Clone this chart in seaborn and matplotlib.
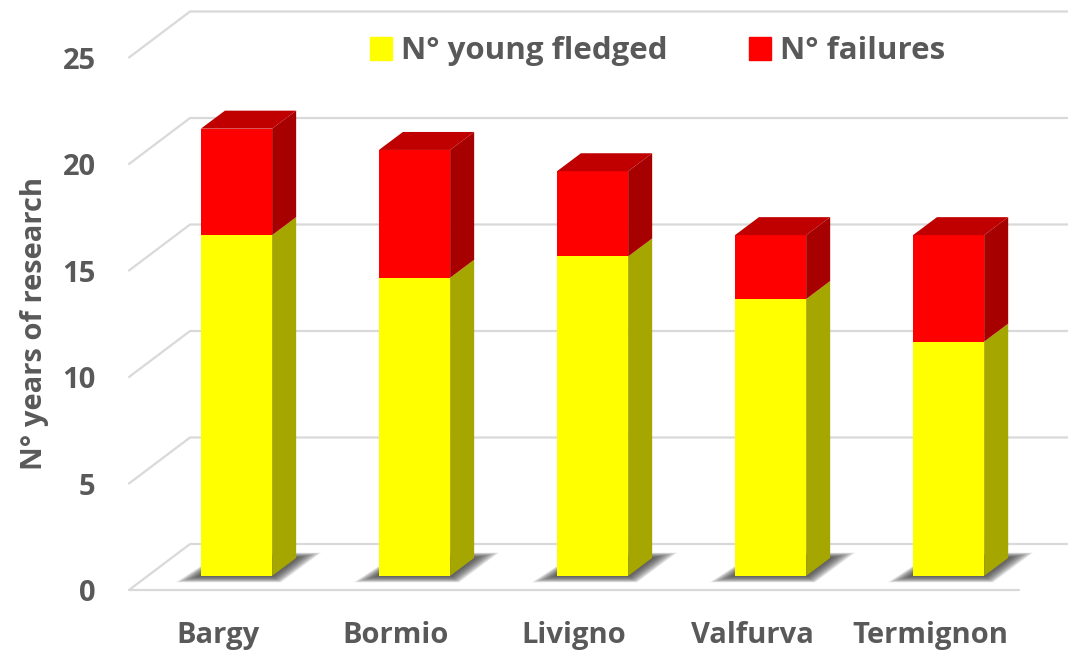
import matplotlib
matplotlib.use("Agg")
import matplotlib.pyplot as plt
from matplotlib.patches import Polygon, Patch
import seaborn as sns

# data
sites = ["Bargy", "Bormio", "Livigno", "Valfurva", "Termignon"]
young_fledged = [16, 14, 15, 13, 11]
failures = [5, 6, 4, 3, 5]
y_ticks = [0, 5, 10, 15, 20, 25]

totals = [a + b for a, b in zip(young_fledged, failures)]

YELLOW, YELLOW_SIDE = "#FFFF00", "#A6A600"
RED, RED_SIDE, RED_TOP = "#FF0000", "#A60000", "#C00000"
GRID = "#D9D9D9"
TEXT = "#595959"
FS = 21

# fake 3D geometry (category units, value units)
WALL_DX, WALL_DY = 0.343, 2.16   # front plane -> back wall
BAR_OFF_X, BAR_OFF_Y = 0.104, 0.66  # front plane -> bar front face
BAR_DX, BAR_DY = 0.135, 0.845   # bar depth
BAR_W = 0.4
XMAX, YMAX = 4.775, 27.7

sns.set_style("white")
plt.rcParams["font.family"] = ["Open Sans", "DejaVu Sans"]
plt.rcParams["font.weight"] = "bold"
plt.rcParams["axes.labelweight"] = "bold"

fig = plt.figure(figsize=(10.68, 6.52), dpi=100)
ax = fig.add_axes([129 / 1068, 62 / 652, 939 / 1068, 590 / 652])

sns.barplot(x=sites, y=totals, color=RED, width=BAR_W, saturation=1,
            errorbar=None, edgecolor="none", ax=ax, zorder=3)
sns.barplot(x=sites, y=young_fledged, color=YELLOW, width=BAR_W, saturation=1,
            errorbar=None, edgecolor="none", ax=ax, zorder=3)

red_bars = ax.patches[:len(sites)]
yellow_bars = ax.patches[len(sites):2 * len(sites)]

for p in list(red_bars) + list(yellow_bars):
    p.set_x(p.get_x() + BAR_OFF_X)
    p.set_y(p.get_y() + BAR_OFF_Y)


def side(x, y0, y1, color):
    pts = [(x, y0), (x + BAR_DX, y0 + BAR_DY), (x + BAR_DX, y1 + BAR_DY), (x, y1)]
    ax.add_patch(Polygon(pts, closed=True, facecolor=color, edgecolor="none", zorder=3))


for rb, yb in zip(red_bars, yellow_bars):
    x0 = rb.get_x()
    x1 = x0 + rb.get_width()
    yb0 = yb.get_y()
    ymid = yb0 + yb.get_height()
    ytop = rb.get_y() + rb.get_height()

    # blurred floor shadow, drawn as stacked translucent layers
    n = 14
    for k in range(n):
        t = 1 - k / n
        pts = [(x0 - 0.14 * t, yb0 - 0.3 * t),
               (x1 + 0.05 * t, yb0 - 0.3 * t),
               (x1 + BAR_DX + 0.14 * t, yb0 + BAR_DY + 0.25 * t),
               (x0 + BAR_DX - 0.02 * t, yb0 + BAR_DY + 0.25 * t)]
        ax.add_patch(Polygon(pts, closed=True, facecolor="#3a3a3a", alpha=0.1,
                             edgecolor="none", zorder=2))

    side(x1, yb0, ymid, YELLOW_SIDE)
    side(x1, ymid, ytop, RED_SIDE)
    top = [(x0, ytop), (x0 + BAR_DX, ytop + BAR_DY), (x1 + BAR_DX, ytop + BAR_DY), (x1, ytop)]
    ax.add_patch(Polygon(top, closed=True, facecolor=RED_TOP, edgecolor="none", zorder=3))

# gridlines: left diagonal + back wall
for v in y_ticks:
    ax.plot([-0.5, -0.5 + WALL_DX, XMAX], [v, v + WALL_DY, v + WALL_DY],
            color=GRID, lw=1.6, zorder=1, clip_on=False)
ax.plot([-0.5, len(sites) - 0.5], [0, 0], color=GRID, lw=1.6, zorder=1, clip_on=False)

ax.set_xlim(-0.5, XMAX)
ax.set_ylim(0, YMAX)
ax.set_yticks(y_ticks)
ax.tick_params(axis="y", length=0, pad=24, labelsize=FS, labelcolor=TEXT)
ax.tick_params(axis="x", length=0, pad=22, labelsize=FS, labelcolor=TEXT)
for s in ax.spines.values():
    s.set_visible(False)

ax.set_xlabel("")
ax.set_ylabel("N° years of research", fontsize=FS, color=TEXT)
ax.yaxis.set_label_coords(-0.085, 0.451)

handles = [Patch(color=YELLOW, label="N° young fledged"), Patch(color=RED, label="N° failures")]
ax.legend(handles=handles, loc="center", bbox_to_anchor=(0.563, 0.913), ncol=2,
          frameon=False, fontsize=22.5, handlelength=0.7, handleheight=0.75,
          handletextpad=0.3, columnspacing=2.6, labelcolor=TEXT)

fig.savefig("out.png", dpi=100)
